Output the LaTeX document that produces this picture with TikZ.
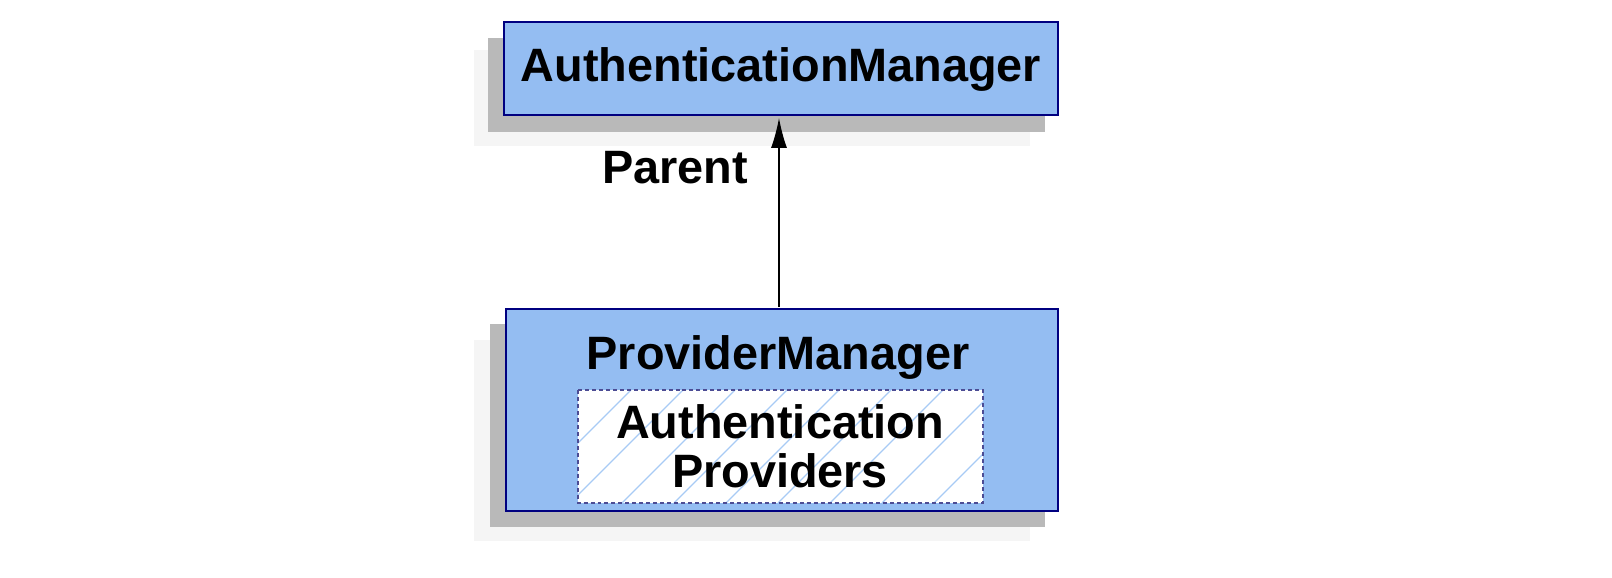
\documentclass[tikz,border=0pt]{standalone}
\usepackage{fontspec}
\setmainfont{Liberation Sans}
\usetikzlibrary{arrows.meta}
\begin{document}
\begin{tikzpicture}[x=1bp,y=-1bp,
  box/.style={draw=blue!50!black, fill=blue1, line width=1.2pt},
  sh/.style={fill=gray!55},
  lt/.style={fill=gray!8},
  lab/.style={font=\fontsize{47}{50}\selectfont\bfseries, text=black, align=center}]
\definecolor{blue1}{HTML}{94BDF2}
\definecolor{hatch}{HTML}{A8CBF5}
\useasboundingbox (0,0) rectangle (1612,578);
\fill[white] (0,0) rectangle (1612,578);
% top
\path[lt] (474,50) rectangle (1030,146);
\path[sh] (488,38) rectangle (1045,132);
\path[box] (504,22) rectangle (1058,115);
\node[lab] (am) at (781,69) {AuthenticationManager};
% bottom
\path[lt] (474,340) rectangle (1030,541);
\path[sh] (490,324) rectangle (1045,527);
\path[box] (506,309) rectangle (1058,511);
\node[lab] (pm) at (778,357) {ProviderManager};
\fill[white] (578,390) rectangle (983,503);
\begin{scope}
\clip (578,390) rectangle (983,503);
\foreach \i in {0,...,12}{
  \draw[hatch, line width=1.3pt] ({578+\i*52-60},503) -- ++(113,-113);
}
\end{scope}
\draw[blue!40!black!70, dash pattern=on 4pt off 3pt, line width=2pt] (578,390) rectangle (983,503);
\node[lab, inner sep=0pt] (ap) at (780,446) {Authentication\\[-1pt]Providers};
\coordinate (s) at (779,307);
\coordinate (t) at (779,118);
\draw[-{Latex[length=30pt,width=16pt]}, line width=1.2pt] (s) -- (t);
\node[lab] (par) at (675,168) {Parent};
\end{tikzpicture}
\end{document}
